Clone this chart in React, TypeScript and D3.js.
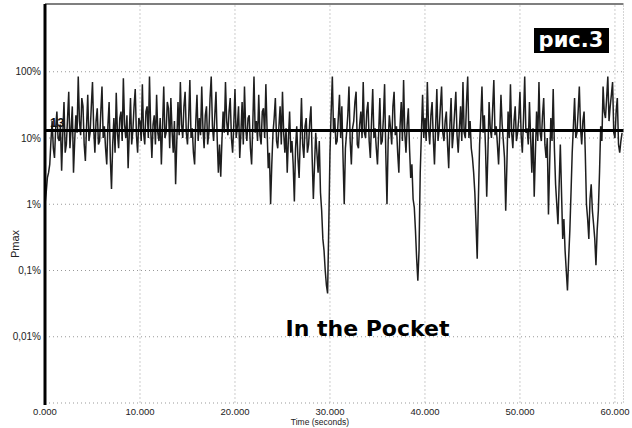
import React from "react";
import * as d3 from "d3";

// Pmax (in %), every 0.25 s, plus the samples in between (at +0.125 s)
const STEP = 0.25;
const pmax0to10 = [
  1.0, 2.5, 4, 18, 5, 25, 9, 3.2, 35, 8, 50, 14, 3, 22, 85, 11, 30, 4.5, 45, 12,
  70, 6, 28, 9, 60, 15, 4, 35, 1.7, 20, 48, 7, 25, 80, 10, 3.5, 40, 13, 55, 6,
];
const mid0to10 = [
  1.5, 3, 9, 7, 14, 10, 16, 12, 6, 20, 7, 30, 9, 12, 18, 40, 8, 15, 9, 30,
  14, 18, 8, 25, 10, 7, 16, 5, 8, 6, 12, 20, 9, 16, 22, 12, 8, 30, 11, 20,
];
const pmax10to20 = [
  18, 65, 8, 30, 85, 5, 22, 45, 9, 4, 60, 12, 28, 40, 6, 2, 35, 70, 10, 50,
  8, 75, 14, 4, 45, 20, 60, 7, 30, 12, 85, 9, 50, 3, 2.6, 25, 70, 11, 40, 6,
];
const mid10to20 = [
  9, 12, 25, 10, 14, 16, 8, 12, 20, 15, 10, 35, 7, 13, 18, 9, 11, 16, 30, 12,
  20, 10, 6, 18, 9, 11, 14, 22, 8, 40, 15, 22, 10, 8, 9, 12, 18, 25, 10, 16,
];
const pmax20to30 = [
  55, 15, 5, 35, 60, 9, 22, 4, 85, 18, 45, 8, 28, 65, 3.5, 1.0, 12, 40, 7, 30,
  50, 6, 3, 25, 9, 1.1, 15, 2.5, 40, 5, 20, 8, 30, 1.2, 12, 3, 1.5, 0.3, 0.1, 0.045,
];
const mid20to30 = [
  10, 30, 12, 8, 14, 20, 7, 16, 12, 9, 11, 25, 10, 14, 6, 4, 20, 9, 15, 8,
  12, 14, 10, 6, 4, 7, 5, 10, 8, 15, 6, 18, 5, 4, 6, 9, 0.8, 0.2, 0.06, 0.5,
];
const pmax30to40 = [
  6, 85, 20, 9, 45, 30, 1.0, 12, 60, 4, 18, 50, 7, 25, 70, 10, 35, 5, 55, 14,
  4, 40, 9, 65, 1.0, 22, 8, 50, 15, 3, 35, 75, 6, 28, 2.5, 1.2, 0.4, 0.07, 3, 45,
];
const mid30to40 = [
  25, 12, 8, 20, 10, 5, 7, 22, 9, 14, 35, 8, 16, 10, 12, 25, 9, 18, 10, 7,
  12, 8, 20, 6, 9, 14, 30, 11, 6, 15, 9, 12, 16, 7, 4, 0.9, 0.15, 0.2, 12, 10,
];
const pmax40to50 = [
  20, 70, 8, 35, 4, 55, 14, 60, 9, 25, 3.5, 40, 12, 50, 6, 30, 70, 10, 85, 18,
  5, 1.5, 0.15, 8, 60, 22, 1.3, 35, 10, 75, 15, 4, 45, 9, 0.8, 25, 65, 7, 30, 12,
];
const mid40to50 = [
  9, 14, 22, 10, 15, 9, 30, 12, 18, 8, 16, 7, 25, 11, 14, 9, 12, 35, 10, 7,
  3, 0.5, 1.2, 20, 12, 7, 6, 14, 28, 11, 8, 12, 16, 5, 4, 10, 12, 18, 9, 20,
];
const pmax50to61 = [
  50, 6, 85, 14, 35, 3, 1.3, 25, 70, 9, 40, 5, 0.7, 20, 55, 2, 0.5, 8, 0.3, 0.2,
  0.05, 0.4, 6, 40, 12, 60, 8, 25, 1.0, 0.3, 2, 0.5, 0.12, 0.8, 15, 60, 20, 85, 30, 70,
  10, 40, 6, 12,
];
const mid50to61 = [
  11, 20, 12, 8, 10, 14, 6, 9, 12, 22, 8, 10, 4, 9, 7, 1.0, 2, 1.5, 0.6, 0.1,
  0.15, 1.5, 15, 10, 25, 14, 18, 6, 0.6, 1.2, 0.8, 0.3, 0.4, 3, 9, 25, 40, 18, 45, 12,
  25, 8, 9,
];

const threshold = 13;
const yTicks = [100, 10, 1, 0.1, 0.01];
const yTickLabels = ["100%", "10%", "1%", "0,1%", "0,01%"];
const xTicks = [0, 10, 20, 30, 40, 50, 60];
const xTickLabels = ["0.000", "10.000", "20.000", "30.000", "40.000", "50.000", "60.000"];

export default function App() {
  const W = 632;
  const H = 428;
  const left = 45;
  const right = 623.5;
  const top = 5.5;
  const bottom = 403;

  const values = [
    ...pmax0to10, ...pmax10to20, ...pmax20to30,
    ...pmax30to40, ...pmax40to50, ...pmax50to61,
  ];
  const mids = [
    ...mid0to10, ...mid10to20, ...mid20to30,
    ...mid30to40, ...mid40to50, ...mid50to61,
  ];
  const points = values.flatMap((v, i) =>
    i < mids.length
      ? [{ t: i * STEP, v }, { t: i * STEP + STEP / 2, v: mids[i] }]
      : [{ t: i * STEP, v }]
  );

  const x = d3.scaleLinear().domain([0, 60.9]).range([left, right]);
  const y = d3.scaleLog().domain([0.001, 1000]).range([bottom, top]);

  const line = d3
    .line<{ t: number; v: number }>()
    .x((d) => x(d.t))
    .y((d) => y(d.v));

  const font = "'Liberation Sans', Arial, sans-serif";

  return (
    <svg
      width={W}
      height={H}
      style={{ position: "absolute", left: 0, top: 0, background: "#fff" }}
    >
      {/* grid */}
      {[...yTicks, 0.001].map((t) => (
        <line
          key={"gy" + t}
          x1={left}
          x2={right}
          y1={y(t)}
          y2={y(t)}
          stroke="#999"
          strokeDasharray="1 3"
        />
      ))}
      {xTicks.slice(1).map((t) => (
        <line
          key={"gx" + t}
          x1={x(t)}
          x2={x(t)}
          y1={top}
          y2={bottom}
          stroke="#999"
          strokeDasharray="1 3"
        />
      ))}
      <line x1={right} x2={right} y1={top} y2={bottom} stroke="#aaa" strokeDasharray="1 2" />
      <line x1={left} x2={right} y1={4} y2={4} stroke="#555" strokeWidth={1.5} />

      {/* trace */}
      <path
        d={line(points) ?? ""}
        fill="none"
        stroke="#1e1e1e"
        strokeWidth={1.5}
        strokeLinejoin="miter"
        strokeMiterlimit={2}
      />

      {/* threshold */}
      <line
        x1={left}
        x2={right}
        y1={y(threshold)}
        y2={y(threshold)}
        stroke="#000"
        strokeWidth={3}
      />
      <text x={50} y={127} fontFamily={font} fontSize={13} fontWeight="bold" fill="#111">
        13
      </text>

      {/* y axis */}
      <line x1={left} x2={left} y1={4} y2={405} stroke="#000" strokeWidth={3} />
      {yTicks.map((t, i) => (
        <text
          key={"yl" + t}
          x={41}
          y={y(t)}
          dy="0.35em"
          textAnchor="end"
          fontFamily={font}
          fontSize={10}
          fill="#222"
        >
          {yTickLabels[i]}
        </text>
      ))}
      <text
        transform="translate(19,244) rotate(-90)"
        textAnchor="middle"
        fontFamily={font}
        fontSize={11}
        fill="#222"
      >
        Pmax
      </text>

      {/* x axis */}
      {xTicks.map((t, i) => (
        <text
          key={"xl" + t}
          x={x(t)}
          y={414.5}
          textAnchor="middle"
          fontFamily={font}
          fontSize={9.5}
          fill="#222"
        >
          {xTickLabels[i]}
        </text>
      ))}
      <text x={320} y={424.5} textAnchor="middle" fontFamily={font} fontSize={8.5} fill="#222">
        Time (seconds)
      </text>

      {/* annotations */}
      <rect x={534} y={28} width={75} height={25} fill="#000" />
      <text
        x={571}
        y={47}
        textAnchor="middle"
        fontFamily="'DejaVu Sans', sans-serif"
        fontWeight="bold"
        fontSize={21}
        fill="#fff"
      >
        рис.3
      </text>
      <text
        x={367.5}
        y={336}
        textAnchor="middle"
        fontFamily="'DejaVu Sans', Verdana, sans-serif"
        fontWeight="bold"
        fontSize={22}
        fill="#000"
      >
        In the Pocket
      </text>
    </svg>
  );
}
